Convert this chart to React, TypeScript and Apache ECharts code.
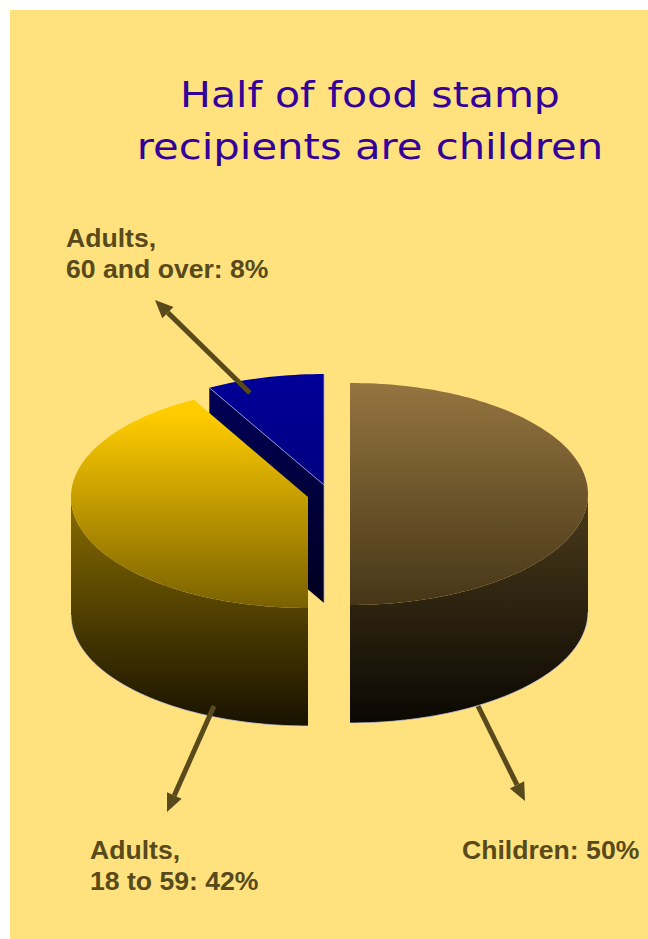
import React, { useEffect, useRef } from "react";
import * as echarts from "echarts";

const categories = ["Children", "Adults, 18 to 59", "Adults, 60 and over"];
const shares = [50, 42, 8];
const titleLines = ["Half of food stamp", "recipients are children"];
const calloutTexts = ["Children: 50%", "Adults,\n18 to 59: 42%", "Adults,\n60 and over: 8%"];

const W = 648;
const H = 939;
const RY = 111;
const DEPTH = 118;
const radiiX = [238, 237, 238];
const titleStretch = [1.14, 1.16];
const centers = [
  [350, 494],
  [308, 497],
  [324, 485],
];
const topColors = [
  ["#957540", "#463617"],
  ["#FFCC00", "#786000"],
  ["#000099", "#000068"],
];
const sideColors = [
  ["#463719", "#0B0803"],
  ["#806600", "#181200"],
  ["#000058", "#000020"],
];
const RIM = "rgba(205,205,225,0.75)";

const calloutPos = [
  [462, 834],
  [90, 834],
  [66, 222],
];
const arrows = [
  [478, 706, 525, 801],
  [214, 706, 167, 812],
  [250, 393, 155, 300],
];
const ARROW_COLOR = "#584A1A";

function grad(y1: number, y2: number, stops: string[]) {
  return {
    type: "linear",
    global: true,
    x: 0,
    y: y1,
    x2: 0,
    y2: y2,
    colorStops: [
      { offset: 0, color: stops[0] },
      { offset: 1, color: stops[1] },
    ],
  };
}

function pt(cx: number, cy: number, rx: number, deg: number, dy = 0) {
  const a = (deg * Math.PI) / 180;
  return [cx + rx * Math.sin(a), cy - RY * Math.cos(a) + dy];
}

function arc(cx: number, cy: number, rx: number, from: number, to: number, dy = 0) {
  const pts: number[][] = [];
  const n = Math.max(2, Math.ceil(Math.abs(to - from) / 1.5));
  for (let i = 0; i <= n; i++) pts.push(pt(cx, cy, rx, from + ((to - from) * i) / n, dy));
  return pts;
}

function renderSlice(params: any, api: any) {
  const idx = params.dataIndex;
  const total = shares.reduce((a, b) => a + b, 0);
  const before = shares.slice(0, idx).reduce((a, b) => a + b, 0);
  const a0 = (before / total) * 360;
  const a1 = a0 + (api.value(0) / total) * 360;
  const [cx, cy] = centers[idx];
  const rx = radiiX[idx];
  const z2 = 3 - idx;
  const children: any[] = [];
  const topPts = [[cx, cy], ...arc(cx, cy, rx, a0, a1)];
  const yTop = cy - RY;
  if (a0 < 270 && a1 > 90) {
    const s = Math.max(a0, 90);
    const e = Math.min(a1, 270);
    const upper = arc(cx, cy, rx, s, e);
    const lower = arc(cx, cy, rx, e, s, DEPTH);
    children.push({
      type: "polygon",
      z2,
      shape: { points: [...upper, ...lower] },
      style: { fill: grad(cy + 20, cy + RY + DEPTH, sideColors[idx]) },
    });
    children.push({
      type: "polyline",
      z2: z2 + 0.2,
      shape: { points: lower },
      style: { fill: "none", stroke: RIM, lineWidth: 1 },
    });
  }
  if (a0 > 270) {
    // the cut face that turns towards the viewer on the left of the pie
    const rim = pt(cx, cy, rx, a0);
    const wall = [rim, [cx, cy], [cx, cy + DEPTH], [rim[0], rim[1] + DEPTH]];
    children.push({
      type: "polygon",
      z2,
      shape: { points: wall },
      style: { fill: grad(rim[1], cy + DEPTH, sideColors[idx]) },
    });
    children.push({
      type: "polyline",
      z2: z2 + 0.3,
      shape: { points: [rim, [cx, cy]] },
      style: { fill: "none", stroke: "rgba(150,150,215,0.9)", lineWidth: 1 },
    });
    children.push({
      type: "polyline",
      z2: z2 + 0.3,
      shape: { points: [[cx, cy - RY], [cx, cy + DEPTH]] },
      style: { fill: "none", stroke: "rgba(170,170,220,0.7)", lineWidth: 1 },
    });
  }
  const gradTop = idx === 1 ? pt(cx, cy, rx, a1)[1] + 15 : yTop;
  children.push({
    type: "polygon",
    z2: z2 + 0.1,
    shape: { points: topPts },
    style: { fill: grad(gradTop, cy + RY + (idx === 1 ? 1 : 0), topColors[idx]) },
  });
  return { type: "group", children };
}

function arrowGraphic([x1, y1, x2, y2]: number[]) {
  const len = Math.hypot(x2 - x1, y2 - y1);
  const ux = (x2 - x1) / len;
  const uy = (y2 - y1) / len;
  const hl = 18;
  const hw = 8;
  const bx = x2 - ux * hl;
  const by = y2 - uy * hl;
  return [
    {
      type: "line",
      shape: { x1, y1, x2: bx, y2: by },
      style: { stroke: ARROW_COLOR, lineWidth: 5 },
      z: 10,
    },
    {
      type: "polygon",
      shape: {
        points: [
          [x2, y2],
          [bx - uy * hw, by + ux * hw],
          [bx + uy * hw, by - ux * hw],
        ],
      },
      style: { fill: ARROW_COLOR },
      z: 10,
    },
  ];
}

export default function App() {
  const ref = useRef<HTMLDivElement>(null);
  useEffect(() => {
    document.body.style.margin = "0";
    document.body.style.background = "#FFFFFF";
    const chart = echarts.init(ref.current!, null, { renderer: "svg" });
    chart.setOption({
      animation: false,
      backgroundColor: "#FFFFFF",
      graphic: [
        {
          type: "rect",
          shape: { x: 10, y: 10, width: W - 10, height: H - 10 },
          style: { fill: "#FFE17D" },
          z: -10,
        },
        ...titleLines.map((t, i) => ({
          type: "text",
          x: 370,
          y: 94 + i * 53,
          scaleX: titleStretch[i],
          z: 10,
          style: {
            text: t,
            fill: "#330099",
            font: '36px "DejaVu Sans"',
            align: "center",
            verticalAlign: "middle",
          },
        })),
        ...calloutTexts.map((t, i) => ({
          type: "text",
          x: calloutPos[i][0],
          y: calloutPos[i][1],
          z: 10,
          style: {
            text: t,
            fill: "#584A1A",
            font: 'bold 26.6px "Liberation Sans"',
            lineHeight: 31,
            align: "left",
            verticalAlign: "top",
          },
        })),
        ...arrows.flatMap(arrowGraphic),
      ],
      series: [
        {
          type: "custom",
          coordinateSystem: "none",
          silent: true,
          clip: false,
          renderItem: renderSlice,
          data: shares.map((v, i) => ({ name: categories[i], value: [v] })),
        },
      ],
    });
    return () => chart.dispose();
  }, []);
  return <div ref={ref} style={{ width: W, height: H }} />;
}
